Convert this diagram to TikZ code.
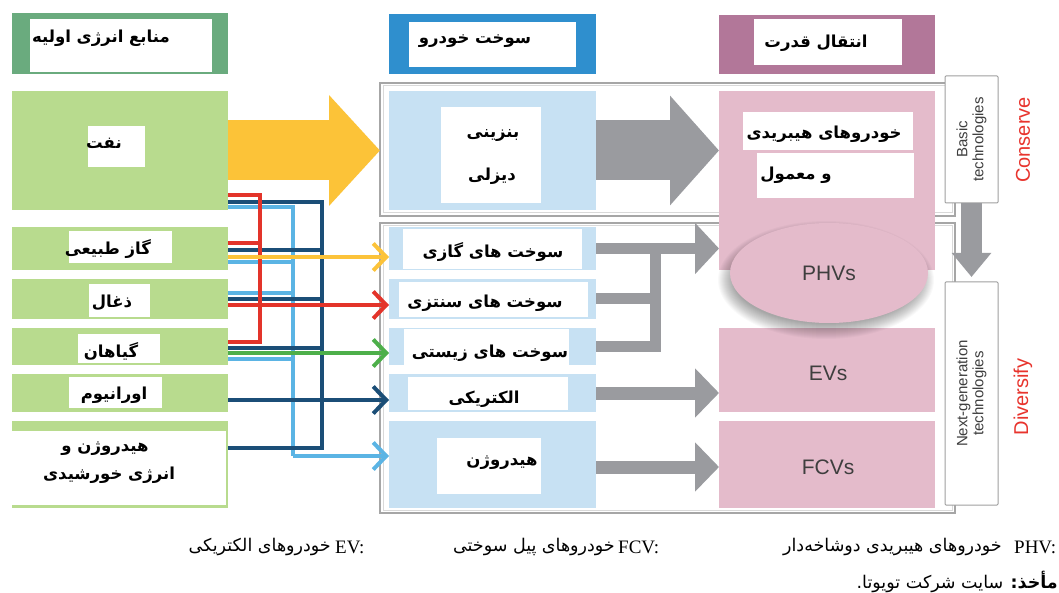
\documentclass[tikz,border=0pt]{standalone}
\usepackage{fontspec}
\usetikzlibrary{arrows.meta,fit,shapes.geometric}
\TeXXeTstate=1
\newfontfamily\fa[Script=Arabic]{DejaVu Sans}
\newfontfamily\lsans{Liberation Sans}
\newfontfamily\lserif{Liberation Serif}

\definecolor{hdrgreen}{HTML}{6AAB7E}
\definecolor{srcgreen}{HTML}{B8DB8E}
\definecolor{hdrblue}{HTML}{2F8FCE}
\definecolor{fuelblue}{HTML}{C7E1F3}
\definecolor{hdrpurple}{HTML}{B27799}
\definecolor{pinkbox}{HTML}{E4BBCB}
\definecolor{oilarrow}{HTML}{FCC338}
\definecolor{greyarrow}{HTML}{9A9B9F}
\definecolor{lnred}{HTML}{E3342A}
\definecolor{lnnavy}{HTML}{1B4E77}
\definecolor{lnlblue}{HTML}{5BB4E4}
\definecolor{lnyellow}{HTML}{FCC33A}
\definecolor{lngreen}{HTML}{4DAF4A}
\definecolor{tagred}{HTML}{E8342D}
\definecolor{engtext}{HTML}{3E3E3E}

\tikzset{
  area/.style={inner sep=0pt, outer sep=0pt, fit={#1}},
  frame/.style={inner sep=0pt, outer sep=0pt, fit={#1}, draw=gray!70, line width=1.6pt},
  innerframe/.style={draw=gray!30, line width=1pt},
  techbox/.style={inner sep=0pt, outer sep=0pt, fit={#1}, draw=gray!75, fill=white, line width=1pt, rounded corners=1pt},
  fa/.style={font=\fa\bfseries\fontsize{16.5}{20}\selectfont, inner sep=0pt, yshift=-3pt},
  faplain/.style={font=\fa\fontsize{17.5}{21}\selectfont, inner sep=0pt},
  latlbl/.style={font=\lserif\fontsize{19}{22}\selectfont, inner sep=0pt},
  vehlbl/.style={font=\lsans\fontsize{21}{24}\selectfont, text=engtext, inner sep=0pt},
  techlbl/.style={font=\lsans\fontsize{15}{16}\selectfont, text=engtext, align=center, inner sep=0pt},
  taglbl/.style={font=\lsans\fontsize{20}{22}\selectfont, text=tagred, inner sep=0pt},
  wire/.style={line width=4pt, line join=miter},
  barb/.style={-{Straight Barb[length=13pt,width=27pt]}},
  fatarrow/.style={line width=60pt, -{Triangle[length=51pt,width=108pt]}},
  forkline/.style={draw=greyarrow, line width=11pt, line join=miter},
  forkarrow/.style={forkline, -{Triangle[length=24pt,width=50pt]}},
  midarrow/.style={draw=greyarrow, line width=13pt, -{Triangle[length=24pt,width=48pt]}},
}

\begin{document}
\begin{tikzpicture}[x=1pt,y=-1pt]
\useasboundingbox (0,0) rectangle (1059,593);
\fill[white] (0,0) rectangle (1059,593);

% ---- frames around the fuel / powertrain groups
\node[frame={(380,83) (955,216)}] (frame1) {};
\draw[innerframe] (383,86) rectangle (952,213);
\node[frame={(380,223) (955,513)}] (frame2) {};
\draw[innerframe] (383,226) rectangle (952,510);

% ---- column headers
\node[area={(12,13) (228,74)}, fill=hdrgreen] (hsrc) {};
\node[area={(30,19) (212,72)}, fill=white] (hsrcw) {};
\node[fa] (t-hsrc) at (101,35) {\beginR منابع انرژی اولیه\endR};

\node[area={(389,14) (596,74)}, fill=hdrblue] (hfuel) {};
\node[area={(409,22) (576,67)}, fill=white] (hfuelw) {};
\node[fa] (t-hfuel) at (475,38) {\beginR سوخت خودرو\endR};

\node[area={(719,15) (935,74)}, fill=hdrpurple] (hpow) {};
\node[area={(754,19) (902,65)}, fill=white] (hpoww) {};
\node[fa] (t-hpow) at (816,40) {\beginR انتقال قدرت\endR};

% ---- primary energy sources
\node[area={(12,91) (228,210)}, fill=srcgreen] (oil) {};
\node[area={(88,126) (145,167)}, fill=white] (oilw) {};
\node[fa] (t-oil) at (104,140) {\beginR نفت\endR};

\node[area={(12,227) (228,270)}, fill=srcgreen] (gas) {};
\node[area={(69,231) (172,263)}, fill=white] (gasw) {};
\node[fa] (t-gas) at (108,246) {\beginR گاز طبیعی\endR};

\node[area={(12,279) (228,319)}, fill=srcgreen] (coal) {};
\node[area={(89,284) (150,317)}, fill=white] (coalw) {};
\node[fa] (t-coal) at (112,300) {\beginR ذغال\endR};

\node[area={(12,328) (228,365)}, fill=srcgreen] (plants) {};
\node[area={(78,334) (160,363)}, fill=white] (plantsw) {};
\node[fa] (t-plants) at (111,348) {\beginR گیاهان\endR};

\node[area={(12,374) (228,412)}, fill=srcgreen] (uran) {};
\node[area={(69,377) (162,408)}, fill=white] (uranw) {};
\node[fa] (t-uran) at (114,392) {\beginR اورانیوم\endR};

\node[area={(12,421) (228,508)}, fill=srcgreen] (h2src) {};
\node[area={(12,431) (226,505)}, fill=white] (h2srcw) {};
\node[fa] (t-h2a) at (105,446) {\beginR هیدروژن و\endR};
\node[fa] (t-h2b) at (109,472) {\beginR انرژی خورشیدی\endR};

% ---- vehicle fuels
\node[area={(389,91) (596,210)}, fill=fuelblue] (petrol) {};
\node[area={(441,107) (541,203)}, fill=white] (petrolw) {};
\node[fa] (t-petrol) at (493,133) {\beginR بنزینی\endR};
\node[fa] (t-diesel) at (492,173) {\beginR دیزلی\endR};

\node[area={(389,227) (596,270)}, fill=fuelblue] (gasfuel) {};
\node[area={(403,229) (582,269)}, fill=white] (gasfuelw) {};
\node[fa] (t-gasfuel) at (493,249) {\beginR سوخت های گازی\endR};

\node[area={(389,279) (596,319)}, fill=fuelblue] (synfuel) {};
\node[area={(399,282) (588,317)}, fill=white] (synfuelw) {};
\node[fa] (t-synfuel) at (485,300) {\beginR سوخت های سنتزی\endR};

\node[area={(389,328) (596,365)}, fill=fuelblue] (biofuel) {};
\node[area={(404,329) (569,365)}, fill=white] (biofuelw) {};
\node[fa] (t-biofuel) at (490,350) {\beginR سوخت های زیستی\endR};

\node[area={(389,374) (596,412)}, fill=fuelblue] (elecfuel) {};
\node[area={(408,377) (568,410)}, fill=white] (elecfuelw) {};
\node[fa] (t-elecfuel) at (484,396) {\beginR الکتریکی\endR};

\node[area={(389,421) (596,508)}, fill=fuelblue] (h2fuel) {};
\node[area={(437,438) (541,494)}, fill=white] (h2fuelw) {};
\node[fa] (t-h2fuel) at (502,460) {\beginR هیدروژن\endR};

% ---- powertrains
\node[area={(719,91) (935,270)}, fill=pinkbox] (hybrid) {};
\node[area={(743,112) (913,150)}, fill=white] (hybridw1) {};
\node[area={(757,153) (914,198)}, fill=white] (hybridw2) {};
\node[fa] (t-hybrid1) at (824,131) {\beginR خودروهای هیبریدی\endR};
\node[fa] (t-hybrid2) at (796,172) {\beginR و معمول\endR};

\node[area={(719,328) (935,412)}, fill=pinkbox] (evs) {};
\node[vehlbl] (t-evs) at (828,373) {EVs};
\node[area={(719,421) (935,508)}, fill=pinkbox] (fcvs) {};
\node[vehlbl] (t-fcvs) at (828,467) {FCVs};

% soft shadow under the plug-in hybrid ellipse
\foreach \i in {0,...,15}
  \fill[black, opacity=0.022] (826,280) ellipse [x radius={93+\i}, y radius={44+\i}];
\node[ellipse, fill=pinkbox, minimum width=198pt, minimum height=100pt, inner sep=0pt]
      (phv) at (829,273) {};
\node[vehlbl] (t-phv) at (phv.center) {PHVs};

% ---- technology stage boxes and tags
\node[techbox={(945,76) (998,203)}] (basic) {};
\node[techlbl, rotate=90] (t-basic) at (basic.center) {Basic\\technologies};
\node[techbox={(945,282) (998,505)}] (nextgen) {};
\node[techlbl, rotate=90] (t-nextgen) at (nextgen.center) {Next-generation\\technologies};
\draw[draw=greyarrow, line width=21pt, -{Triangle[length=24pt,width=38pt]}, shorten >=5pt]
  (basic.south) -- (nextgen.north);
\node[taglbl, rotate=90] (t-conserve) at (1023,140) {Conserve};
\node[taglbl, rotate=90] (t-diversify) at (1023,397) {Diversify};

% ---- big arrows: oil -> petrol/diesel -> conventional vehicles
\draw[draw=oilarrow, fatarrow] (oil.east) -- (oil.east -| frame1.west);
\draw[draw=greyarrow, fatarrow, line width=60pt, -{Triangle[length=49pt,width=107pt]}]
  (petrol.east) -- (petrol.east -| hybrid.west);

% ---- fuels -> powertrains
\coordinate (join) at (655,248.5);
\draw[forkline] (synfuel.east) -| (join);
\draw[forkline] (biofuel.east) -| (join);
\draw[forkarrow] (gasfuel.east) -- (gasfuel.east -| hybrid.west);
\draw[midarrow] (elecfuel.east) -- (elecfuel.east -| evs.west);
\draw[midarrow] ([yshift=-2.5pt]h2fuel.east) -- ([yshift=-2.5pt]h2fuel.east -| fcvs.west);

% ---- sources -> fuels (coloured routes)
% light blue: to hydrogen
\draw[wire, lnlblue] (oil.east |- 0,207) -| (293,456);
\draw[wire, lnlblue] (gas.east |- 0,262) -- (293,262);
\draw[wire, lnlblue] (coal.east |- 0,293) -- (293,293);
\draw[wire, lnlblue] (plants.east |- 0,359) -- (293,359);
% navy: to electricity
\draw[wire, lnnavy] (oil.east |- 0,202) -| (321.5,448) -- (h2src.east |- 0,448);
\draw[wire, lnnavy] (gas.east |- 0,250) -- (321.5,250);
\draw[wire, lnnavy] (coal.east |- 0,299) -- (321.5,299);
\draw[wire, lnnavy] (plants.east |- 0,348) -- (321.5,348);
% red: to synthetic fuels
\draw[wire, lnred] (oil.east |- 0,195) -| (259.5,342) -- (plants.east |- 0,342);
\draw[wire, lnred] (gas.east |- 0,243) -- (259.5,243);
% arrows into the fuel boxes
\draw[wire, lnyellow, barb] (gas.east |- 0,257) -- (gasfuel.west |- 0,257);
\draw[wire, lnred, barb] (coal.east |- 0,305) -- (synfuel.west |- 0,305);
\draw[wire, lngreen, barb] (plants.east |- 0,353) -- (biofuel.west |- 0,353);
\draw[wire, lnnavy, barb] (uran.east |- 0,400) -- (elecfuel.west |- 0,400);
\draw[wire, lnlblue, barb] (293,456) -- (h2fuel.west |- 0,456);

% ---- glossary and source line
\node[latlbl, anchor=west] (g-phv) at (1014,547) {PHV:};
\node[faplain, anchor=east] (g-phvt) at (1002,547) {\beginR خودروهای هیبریدی دوشاخه‌دار\endR};
\node[latlbl, anchor=west] (g-fcv) at (618,547) {FCV:};
\node[faplain, anchor=east] (g-fcvt) at (615,547) {\beginR خودروهای پیل سوختی\endR};
\node[latlbl, anchor=west] (g-ev) at (335,547) {EV:};
\node[faplain, anchor=east] (g-evt) at (331,547) {\beginR خودروهای الکتریکی\endR};
\node[faplain, anchor=east] (g-src) at (1058,582) {\beginR{\bfseries مأخذ:} سایت شرکت تویوتا.\endR};
\end{tikzpicture}
\end{document}
